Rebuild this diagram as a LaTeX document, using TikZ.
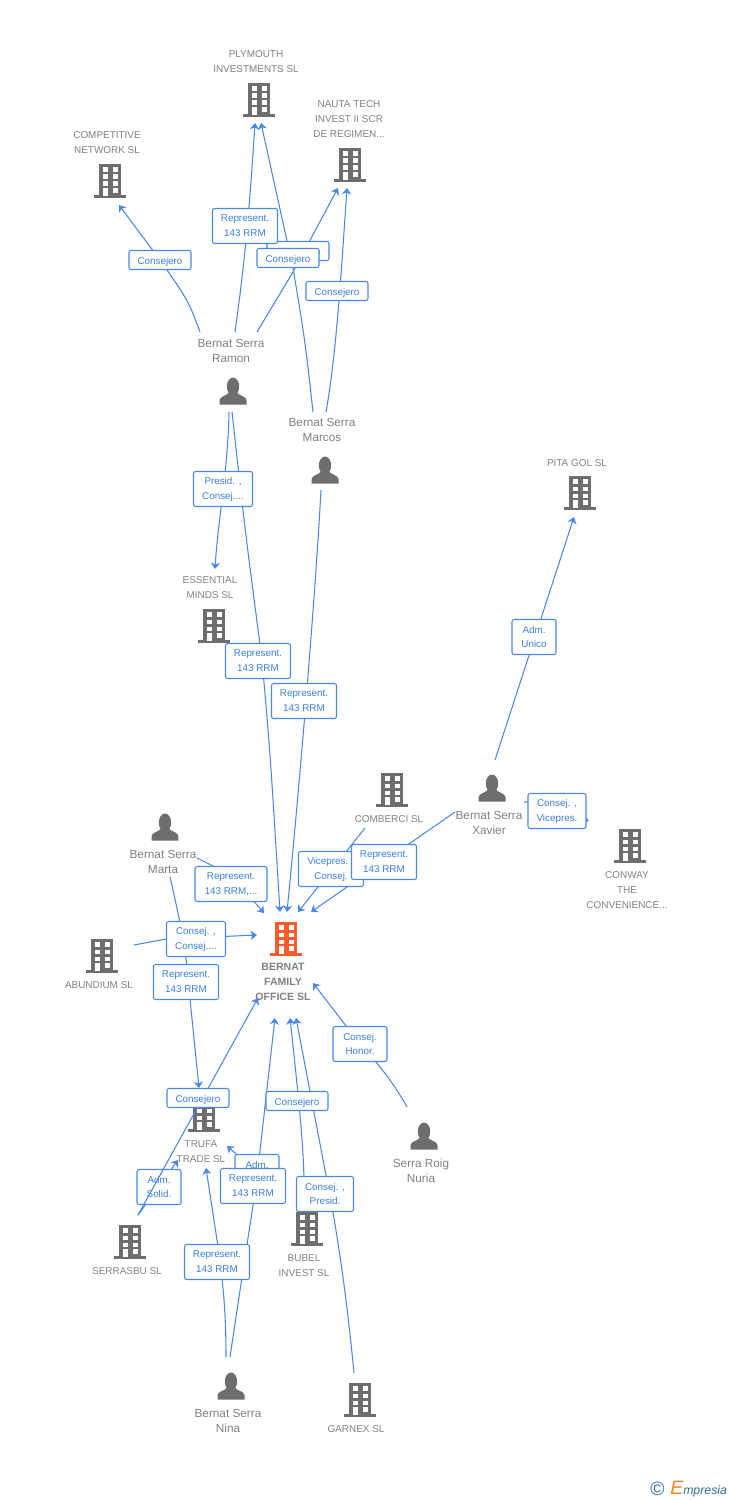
\documentclass[tikz,border=0pt]{standalone}
\usepackage{fontspec}
\setmainfont{Liberation Sans}
\usetikzlibrary{arrows.meta}
\definecolor{icongrey}{HTML}{6E6E6E}
\definecolor{icontxt}{HTML}{808080}
\definecolor{iconorange}{HTML}{FF5A2B}
\definecolor{linkblue}{HTML}{4A88E4}
\definecolor{lblblue}{HTML}{3A7FE0}
\definecolor{logoteal}{HTML}{2F6E8C}
\definecolor{logoorange}{HTML}{F58220}
\newcommand{\bldgicon}[1]{%
	\begin{scope}[shift={(path picture bounding box.center)}]
		\fill[#1] (-16,17) rectangle (16,14.4);
		\fill[#1] (-11,-17) rectangle (11,15);
		\foreach \wx in {-7.5,2.5} \foreach \wy in {-14,-6.5,0.5} \fill[white] (\wx,\wy) rectangle +(5,4.8);
		\fill[white] (2.5,7) rectangle +(5,4.8);
		\fill[white] (-7.5,7) rectangle +(5,8);
	\end{scope}}
\newcommand{\persicon}{%
	\begin{scope}[shift={(path picture bounding box.center)}]
		\fill[icongrey] (0,-4.5) ellipse (6.2 and 9);
		\fill[icongrey] (-13.5,13.5) -- (-13.5,9) .. controls (-13,5) and (-6,5) .. (-3.5,1) -- (3.5,1) .. controls (6,5) and (13,5) .. (13.5,9) -- (13.5,13.5) -- cycle;
	\end{scope}}
\tikzset{
	building/.style={inner sep=0pt, minimum width=0.64cm, minimum height=0.68cm, path picture={\bldgicon{#1}}},
	building/.default=icongrey,
	person/.style={inner sep=0pt, minimum width=0.54cm, minimum height=0.54cm, path picture={\persicon}},
	cotxt/.style={text=icontxt, align=center, inner sep=0pt, font=\fontsize{5.65}{8.5}\selectfont},
	pertxt/.style={text=icontxt, align=center, inner sep=0pt, font=\fontsize{6.7}{8.5}\selectfont},
	maintxt/.style={text=icontxt, align=center, inner sep=0pt, font=\fontsize{6}{8.5}\selectfont\bfseries},
	lblbox/.style={draw=linkblue, fill=white, rounded corners=1.2pt, line width=0.6pt, text=lblblue, align=center, inner sep=0pt, font=\fontsize{5.6}{8.5}\selectfont, execute at begin node={\rule{0pt}{6pt}}, minimum height=0.7cm, minimum width=#1*0.02cm},
	lblthin/.style={lblbox=#1, minimum height=0.38cm},
	link/.style={draw=linkblue, line width=0.6pt, -{Stealth[length=3.6pt,width=5.2pt,inset=1pt]}},
}
\begin{document}
\begin{tikzpicture}[x=0.02cm,y=-0.02cm]
	\useasboundingbox (0,0) rectangle (728,1500);

	% companies
	\node (plymouth) [building] at (259,100) {};
	\node (nauta) [building] at (350,165) {};
	\node (competitive) [building] at (110,181) {};
	\node (pitagol) [building] at (580,493) {};
	\node (essential) [building] at (214,626) {};
	\node (comberci) [building] at (392,790) {};
	\node (conway) [building] at (630,846) {};
	\node (abundium) [building] at (102,956) {};
	\node (bernat) [building=iconorange] at (286,939) {};
	\node (trufa) [building] at (204,1115) {};
	\node (serrasbu) [building] at (130,1242) {};
	\node (bubel) [building] at (307,1229) {};
	\node (garnex) [building] at (360,1400) {};

	\node (plymouthtxt) [cotxt] at (256,61.5) {PLYMOUTH\\INVESTMENTS SL};
	\node (nautatxt) [cotxt] at (349,119) {NAUTA TECH\\INVEST II SCR\\DE REGIMEN...};
	\node (competitivetxt) [cotxt] at (107,142.5) {COMPETITIVE\\NETWORK SL};
	\node (pitagoltxt) [cotxt] at (577,463) {PITA GOL SL};
	\node (essentialtxt) [cotxt] at (210,587.5) {ESSENTIAL\\MINDS SL};
	\node (combercitxt) [cotxt] at (389,819) {COMBERCI SL};
	\node (conwaytxt) [cotxt] at (627,890) {CONWAY\\THE\\CONVENIENCE...};
	\node (abundiumtxt) [cotxt] at (99,985) {ABUNDIUM SL};
	\node (bernattxt) [maintxt] at (283,982) {BERNAT\\FAMILY\\OFFICE SL};
	\node (trufatxt) [cotxt] at (201,1151.5) {TRUFA\\TRADE SL};
	\node (serrasbutxt) [cotxt] at (127,1271) {SERRASBU SL};
	\node (bubeltxt) [cotxt] at (304,1265.5) {BUBEL\\INVEST SL};
	\node (garnextxt) [cotxt] at (356,1429) {GARNEX  SL};

	% people
	\node (ramon) [person] at (233,391) {};
	\node (marcos) [person] at (325,470) {};
	\node (xavier) [person] at (492,788) {};
	\node (marta) [person] at (165,827) {};
	\node (nuria) [person] at (424,1136) {};
	\node (nina) [person] at (231,1386) {};

	\node (ramontxt) [pertxt] at (231,350.5) {Bernat Serra\\Ramon};
	\node (marcostxt) [pertxt] at (322,429.5) {Bernat Serra\\Marcos};
	\node (xaviertxt) [pertxt] at (489,822.5) {Bernat Serra\\Xavier};
	\node (martatxt) [pertxt] at (163,861.5) {Bernat Serra\\Marta};
	\node (nuriatxt) [pertxt] at (421,1170.5) {Serra Roig\\Nuria};
	\node (ninatxt) [pertxt] at (228,1420.5) {Bernat Serra\\Nina};

	% free ends of the connectors
	\coordinate (ramona) at (200,332);
	\coordinate (ramonb) at (235,332);
	\coordinate (ramonc) at (257,332);
	\coordinate (ramond) at (229,412);
	\coordinate (ramone) at (232,412);
	\coordinate (marcosa) at (313,412);
	\coordinate (marcosb) at (326,412);
	\coordinate (marcosc) at (321,490);
	\coordinate (xaviera) at (495,760);
	\coordinate (xavierb) at (524,802);
	\coordinate (xavierc) at (455,812);
	\coordinate (combercia) at (365,828);
	\coordinate (martaa) at (197,858);
	\coordinate (martab) at (170,877);
	\coordinate (abundiuma) at (134,945);
	\coordinate (serrasbua) at (138,1215);
	\coordinate (nuriaa) at (407,1107);
	\coordinate (bubela) at (304,1200);
	\coordinate (bubelb) at (257,1172);
	\coordinate (garnexa) at (354,1373);
	\coordinate (ninaa) at (230,1357);
	\coordinate (ninab) at (226,1357);

	\coordinate (competitivein) at (119,205);
	\coordinate (plymouthina) at (255,123);
	\coordinate (plymouthinb) at (261,123);
	\coordinate (nautaina) at (338,188);
	\coordinate (nautainb) at (347,188);
	\coordinate (essentialin) at (215,569);
	\coordinate (pitagolin) at (574,517);
	\coordinate (conwayin) at (589,821);
	\coordinate (bernatina) at (264,913);
	\coordinate (bernatinb) at (280,912);
	\coordinate (bernatinc) at (287,912);
	\coordinate (bernatind) at (298,912);
	\coordinate (bernatine) at (311,912);
	\coordinate (bernatinf) at (257,935);
	\coordinate (bernating) at (258,998);
	\coordinate (bernatinh) at (313,983);
	\coordinate (bernatini) at (275,1018);
	\coordinate (bernatinj) at (290,1018);
	\coordinate (bernatink) at (296,1018);
	\coordinate (trufaina) at (199,1088);
	\coordinate (trufainb) at (178,1160);
	\coordinate (trufainc) at (206,1168);
	\coordinate (trufaind) at (227,1146);

	% connectors
	\draw[link] (ramona) .. controls (188,300) .. (160,260) -- (competitivein);
	\draw[link] (ramonb) .. controls (245,260) and (249,215) .. (plymouthina);
	\draw[link] (marcosa) .. controls (305,340) .. (293,268) -- (plymouthinb);
	\draw[link] (ramonc) -- (293,272) -- (nautaina);
	\draw[link] (marcosb) .. controls (337,350) and (342,260) .. (nautainb);
	\draw[link] (ramond) .. controls (228,470) and (218,520) .. (essentialin);
	\draw[link] (ramone) .. controls (245,530) .. (262,660) .. controls (270,750) .. (bernatinb);
	\draw[link] (marcosc) .. controls (315,600) and (300,780) .. (bernatinc);
	\draw[link] (xaviera) -- (pitagolin);
	\draw[link] (xavierb) -- (530,802) -- (conwayin);
	\draw[link] (xavierc) -- (bernatine);
	\draw[link] (combercia) -- (bernatind);
	\draw[link] (martaa) -- (231,875) -- (bernatina);
	\draw[link] (martab) .. controls (180,920) and (188,960) .. (190,999) -- (trufaina);
	\draw[link] (abundiuma) -- (166,939) -- (bernatinf);
	\draw[link] (serrasbua) -- (trufainb);
	\draw[link] (nuriaa) .. controls (392,1080) and (375,1060) .. (360,1044) -- (bernatinh);
	\draw[link] (bubela) .. controls (305,1160) and (300,1110) .. (bernatinj);
	\draw[link] (garnexa) .. controls (345,1280) and (335,1220) .. (325,1170) -- (bernatink);
	\draw[link] (ninaa) .. controls (240,1290) and (250,1225) .. (256,1186) -- (bernatini);
	\draw[link] (ninab) .. controls (226,1320) and (224,1285) .. (217,1240) -- (trufainc);
	\draw[link] (bubelb) -- (trufaind);

	% labels
	\node (lblcompetitive) [lblthin=62] at (160,260) {Consejero};
	\node (lblnauta) [lblthin=62] at (298,251) {Consejero};
	\node (lblplymouth) [lblbox=65] at (245,226) {Represent.\\143 RRM};
	\node (lblplymouthb) [lblthin=62] at (288,258) {Consejero};
	\node (lblnautab) [lblthin=62] at (337,291) {Consejero};
	\node (lblessential) [lblbox=59] at (223,489) {Presid. ,\\Consej....};
	\node (lblramon) [lblbox=65] at (258,661) {Represent.\\143 RRM};
	\node (lblmarcos) [lblbox=65] at (304,701) {Represent.\\143 RRM};
	\node (lblpitagol) [lblbox=44] at (534,637) {Adm.\\Unico};
	\node (lblconway) [lblbox=58] at (557,811) {Consej. ,\\Vicepres.};
	\node (lblcomberci) [lblbox=65] at (331,869) {Vicepres. ,\\Consej.};
	\node (lblxavier) [lblbox=65] at (384,862) {Represent.\\143 RRM};
	\node (lblmarta) [lblbox=72] at (231,884) {Represent.\\143 RRM,...};
	\node (lblabundium) [lblbox=59] at (196,939) {Consej. ,\\Consej....};
	\node (lblmartab) [lblbox=65] at (186,982) {Represent.\\143 RRM};
	\node (lblserrasbu) [lblbox=44] at (159,1187) {Adm.\\Solid.};
	\draw[link] (serrasbua) -- (bernating);
	\node (lblserrasbub) [lblthin=62] at (198,1098) {Consejero};
	\node (lblhonor) [lblbox=54] at (360,1044) {Consej.\\Honor.};
	\node (lblbubel) [lblthin=62] at (297,1101) {Consejero};
	\node (lblbubelb) [lblbox=44] at (257,1172) {Adm.\\\phantom{Adm.}};
	\node (lblnina) [lblbox=65] at (253,1186) {Represent.\\143 RRM};
	\node (lblgarnex) [lblbox=57] at (325,1194) {Consej. ,\\Presid.};
	\node (lblninab) [lblbox=65] at (217,1262) {Represent.\\143 RRM};

	% logo
	\node (logoc) [text=logoteal, inner sep=0pt, font=\fontsize{11}{11}\selectfont] at (657.5,1489) {©};
	\node (logotxt) [anchor=base west, inner sep=0pt, text=logoteal, font=\fontsize{7}{8}\selectfont\itshape\rmfamily] at (670,1494) {\textcolor{logoorange}{\fontsize{11}{11}\selectfont E}mpresia};
\end{tikzpicture}
\end{document}
